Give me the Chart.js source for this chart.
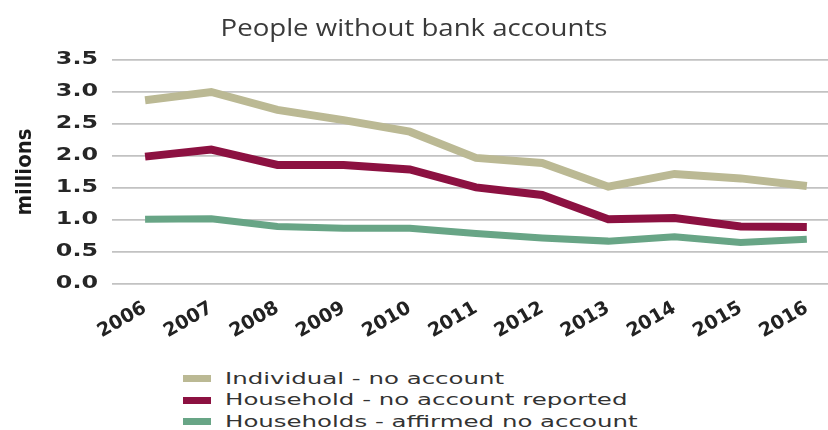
<!DOCTYPE html>
<html>
<head>
<meta charset="utf-8">
<script src="https://cdn.jsdelivr.net/npm/chart.js@4/dist/chart.umd.min.js"></script>
<style>
  html, body { margin: 0; padding: 0; background: #fff; overflow: hidden; }
  #wrap { position: relative; width: 828px; height: 430px; }
  #chartBox { position: absolute; left: 0; top: 0; width: 828px; height: 350px; }
  #legend { position: absolute; left: 183px; top: 368px; font-family: "DejaVu Sans", sans-serif;
            font-size: 15px; color: #333; }
  .row { display: flex; align-items: center; white-space: nowrap; height: 21.5px; }
  .sw { width: 28px; height: 7px; margin-right: 14px; }
  .txt { display: inline-block; transform: scaleX(1.63); transform-origin: left center; }
</style>
</head>
<body>
<div id="wrap">
  <div id="chartBox"><canvas id="c"></canvas></div>
  <div id="legend"></div>
</div>
<script>
/* People without bank accounts, millions, 2006-2016 */

const years = [2006, 2007, 2008, 2009, 2010, 2011, 2012, 2013, 2014, 2015, 2016];
const individualNoAccount = [2.87, 3.00, 2.72, 2.56, 2.38, 1.97, 1.89, 1.52, 1.72, 1.65, 1.53];
const householdReported   = [1.99, 2.10, 1.86, 1.86, 1.79, 1.51, 1.39, 1.01, 1.03, 0.90, 0.89];
const householdAffirmed   = [1.01, 1.02, 0.90, 0.87, 0.87, 0.79, 0.72, 0.67, 0.74, 0.65, 0.70];
const seriesLabels = ['Individual - no account', 'Household - no account reported', 'Households - affirmed no account'];
const yTicks = [0, 0.5, 1.0, 1.5, 2.0, 2.5, 3.0, 3.5];

const colors = ['#bbb994', '#8c1141', '#68a586'];
const pts = arr => years.map((y, i) => ({ x: y, y: arr[i] }));

const mkSet = (i, arr, w) => ({
  label: seriesLabels[i], data: pts(arr),
  borderColor: colors[i], backgroundColor: colors[i],
  borderWidth: w, pointRadius: 0, tension: 0,
  borderJoinStyle: 'miter', borderCapStyle: 'butt'
});

// the source art is stretched sideways: widen some text around a fixed x
function stretched(obj, method, anchorFn, sx) {
  if (!obj || obj['_st_' + method]) return;
  const orig = obj[method];
  obj[method] = function (...a) {
    const ctx = this.ctx, ax = anchorFn(this);
    ctx.save();
    ctx.translate(ax, 0); ctx.scale(sx, 1); ctx.translate(-ax, 0);
    orig.apply(this, a);
    ctx.restore();
  };
  obj['_st_' + method] = true;
}
const stretchPlugin = {
  id: 'stretch',
  beforeDraw(chart) {
    stretched(chart.scales.y, 'drawLabels', s => s.right - s.options.ticks.padding, 1.4);
    stretched(chart.titleBlock, 'draw', t => (t.left + t.right) / 2, 1.2);
  }
};

const chart = new Chart(document.getElementById('c'), {
  type: 'line',
  data: { datasets: [
    mkSet(0, individualNoAccount, 8),
    mkSet(1, householdReported, 8),
    mkSet(2, householdAffirmed, 7)
  ] },
  plugins: [stretchPlugin],
  options: {
    responsive: true, maintainAspectRatio: false, animation: false,
    layout: { padding: { left: 0, right: 0, top: 0, bottom: 0 } },
    plugins: {
      legend: { display: false },
      tooltip: { enabled: false },
      title: {
        display: true, text: 'People without bank accounts', color: '#3a3a3a',
        font: { family: '"Open Sans", sans-serif', size: 23, weight: 'normal', lineHeight: 1.2 },
        padding: { top: 16, bottom: 16.4 }
      }
    },
    scales: {
      x: {
        type: 'linear', min: 2005.5, max: 2016.32,
        afterBuildTicks: ax => { ax.ticks = years.map(v => ({ value: v })); },
        afterFit: ax => { ax.height = 66; },
        grid: { display: false }, border: { display: false },
        ticks: {
          autoSkip: false, maxRotation: 30, minRotation: 30, padding: 5,
          color: '#222', callback: v => String(v),
          font: { family: '"DejaVu Sans", sans-serif', size: 19, weight: 'bold' }
        }
      },
      y: {
        min: 0, max: 3.5,
        afterBuildTicks: ax => { ax.ticks = yTicks.map(v => ({ value: v })); },
        afterFit: ax => { ax.width = 112; },
        grid: { color: '#c2c2c2', lineWidth: 1.8, drawTicks: false },
        border: { display: false },
        ticks: {
          padding: 14, color: '#262626', callback: v => v.toFixed(1),
          font: { family: '"DejaVu Sans", sans-serif', size: 17, weight: 'bold' }
        },
        title: {
          display: true, text: 'millions', color: '#1a1a1a', padding: { top: 12, bottom: 0 },
          font: { family: '"DejaVu Sans Condensed", "Liberation Sans Narrow", "Liberation Sans", sans-serif', size: 22, weight: 'bold' }
        }
      }
    }
  }
});

// legend as a plain vertical list below the canvas
const legendEl = document.getElementById('legend');
chart.data.datasets.forEach(ds => {
  const row = document.createElement('div');
  row.className = 'row';
  row.innerHTML = '<span class="sw" style="background:' + ds.borderColor + '"></span><span class="txt">' + ds.label + '</span>';
  legendEl.appendChild(row);
});
</script>
</body>
</html>
